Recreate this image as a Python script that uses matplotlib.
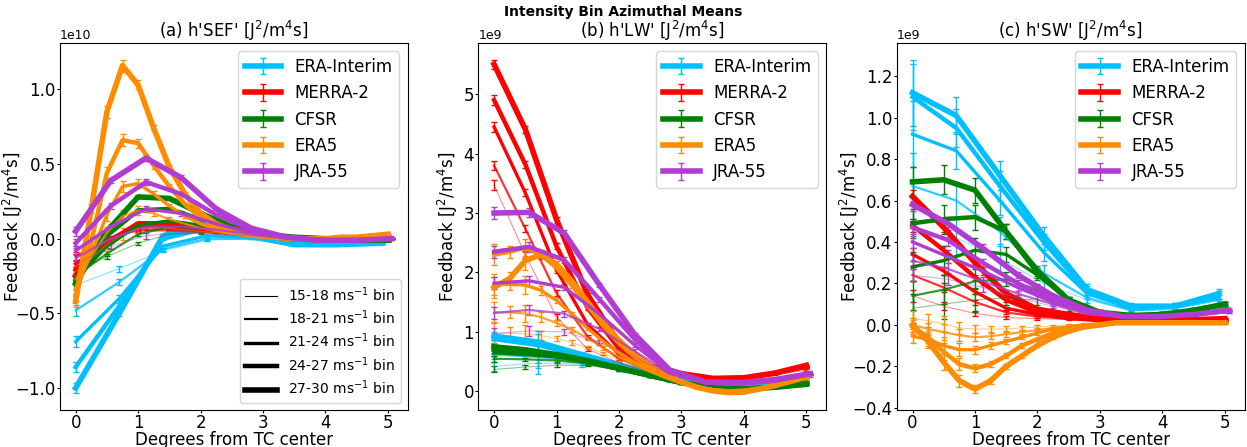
import numpy as np
import matplotlib
matplotlib.use('Agg')
import matplotlib.pyplot as plt
from matplotlib.lines import Line2D

# radial grids of each reanalysis (degrees from TC center)
x_erai = [0, 0.7, 1.4, 2.1, 2.8, 3.5, 4.2, 4.9]
x_merra = [0, 0.5, 1.0, 1.5, 2.0, 2.5, 3.0, 3.5, 4.0, 4.5, 5.0]
x_cfsr = [0, 0.5, 1.0, 1.5, 2.0, 2.5, 3.0, 3.5, 4.0, 4.5, 5.0]
x_era5 = [0, 0.25, 0.5, 0.75, 1.0, 1.25, 1.5, 1.75, 2.0, 2.25, 2.5, 2.75,
          3.0, 3.25, 3.5, 3.75, 4.0, 4.25, 4.5, 4.75, 5.0]
x_jra = [0, 0.5625, 1.125, 1.6875, 2.25, 2.8125, 3.375, 3.9375, 4.5, 5.0625]

datasets = ['ERA-Interim', 'MERRA-2', 'CFSR', 'ERA5', 'JRA-55']
colors = ['deepskyblue', 'red', 'green', 'darkorange', '#b03cd2']
bins = ['15-18', '18-21', '21-24', '24-27', '27-30']

# ---- (a) h'SEF', units of 1e10 ; one row per intensity bin ----
sef_erai = [[-0.31, -0.20, -0.08, -0.01, 0.00, -0.02, -0.03, -0.03],
            [-0.48, -0.29, -0.07, 0.00, 0.00, -0.03, -0.03, -0.03],
            [-0.69, -0.40, -0.05, 0.02, 0.01, -0.03, -0.04, -0.03],
            [-0.86, -0.45, 0.00, 0.07, 0.01, -0.04, -0.04, -0.03],
            [-1.00, -0.50, 0.02, 0.11, 0.02, -0.04, -0.04, -0.03]]
sef_merra = [[-0.07, 0.01, 0.05, 0.05, 0.04, 0.03, 0.01, 0.00, -0.01, -0.01, -0.01],
             [-0.12, 0.00, 0.06, 0.06, 0.05, 0.03, 0.01, 0.00, -0.01, -0.01, -0.01],
             [-0.17, -0.01, 0.08, 0.08, 0.06, 0.04, 0.02, 0.00, -0.01, -0.01, -0.01],
             [-0.21, -0.02, 0.09, 0.09, 0.07, 0.04, 0.02, 0.00, -0.01, -0.01, -0.01],
             [-0.25, -0.03, 0.10, 0.10, 0.08, 0.05, 0.02, 0.00, -0.01, -0.01, -0.01]]
sef_cfsr = [[-0.22, -0.12, -0.03, 0.03, 0.04, 0.03, 0.02, 0.01, 0.00, -0.01, -0.01],
            [-0.25, -0.10, 0.03, 0.08, 0.07, 0.05, 0.02, 0.01, 0.00, -0.01, -0.01],
            [-0.27, -0.05, 0.09, 0.12, 0.09, 0.05, 0.03, 0.01, 0.00, -0.01, -0.01],
            [-0.28, 0.02, 0.19, 0.20, 0.13, 0.06, 0.03, 0.01, 0.00, -0.01, -0.01],
            [-0.30, 0.05, 0.28, 0.27, 0.17, 0.08, 0.03, 0.01, 0.00, -0.01, -0.01]]
sef_era5 = [[-0.22, -0.13, -0.04, 0.03, 0.07, 0.08, 0.07, 0.06, 0.05, 0.04, 0.03,
             0.02, 0.01, 0.00, 0.00, 0.00, 0.00, 0.00, 0.00, 0.01, 0.01],
            [-0.27, -0.12, 0.04, 0.15, 0.19, 0.17, 0.13, 0.10, 0.07, 0.05, 0.03,
             0.02, 0.01, 0.00, 0.00, 0.00, 0.00, 0.00, 0.01, 0.01, 0.02],
            [-0.33, -0.10, 0.16, 0.35, 0.37, 0.30, 0.22, 0.15, 0.10, 0.06, 0.04,
             0.02, 0.01, 0.00, 0.00, 0.00, 0.00, 0.01, 0.01, 0.02, 0.02],
            [-0.38, -0.02, 0.44, 0.66, 0.64, 0.49, 0.35, 0.23, 0.14, 0.08, 0.05,
             0.03, 0.02, 0.01, 0.00, 0.00, 0.00, 0.01, 0.01, 0.02, 0.03],
            [-0.42, 0.20, 0.85, 1.16, 1.03, 0.74, 0.48, 0.30, 0.17, 0.10, 0.06,
             0.04, 0.02, 0.01, 0.00, 0.00, 0.00, 0.01, 0.01, 0.02, 0.03]]
sef_jra = [[-0.17, -0.05, 0.02, 0.04, 0.03, 0.02, 0.00, -0.01, -0.01, 0.00],
           [-0.13, 0.00, 0.08, 0.08, 0.06, 0.03, 0.00, -0.01, -0.01, 0.00],
           [-0.08, 0.08, 0.20, 0.17, 0.10, 0.04, 0.01, -0.01, -0.01, 0.00],
           [-0.03, 0.22, 0.38, 0.30, 0.16, 0.06, 0.01, -0.01, -0.01, 0.00],
           [0.05, 0.39, 0.54, 0.41, 0.20, 0.07, 0.01, -0.01, -0.01, 0.00]]
sef_err_erai = [0.035, 0.02, 0.01, 0.006, 0.004, 0.003, 0.003, 0.003]
sef_err_merra = [0.02, 0.01, 0.008, 0.006, 0.005, 0.004, 0.003, 0.003, 0.003, 0.003, 0.003]
sef_err_cfsr = [0.02, 0.015, 0.01, 0.008, 0.006, 0.005, 0.004, 0.003, 0.003, 0.003, 0.003]
sef_err_era5 = [0.04, 0.03, 0.04, 0.04, 0.03, 0.02, 0.015, 0.01, 0.008, 0.006, 0.005,
                0.004, 0.004, 0.003, 0.003, 0.003, 0.003, 0.003, 0.003, 0.003, 0.003]
sef_err_jra = [0.03, 0.02, 0.02, 0.015, 0.01, 0.006, 0.004, 0.003, 0.003, 0.003]

# ---- (b) h'LW', units of 1e9 ----
lw_erai = [[0.42, 0.48, 0.46, 0.35, 0.18, 0.06, 0.06, 0.12],
           [0.62, 0.58, 0.50, 0.37, 0.19, 0.06, 0.07, 0.13],
           [0.70, 0.66, 0.55, 0.39, 0.20, 0.07, 0.08, 0.15],
           [0.88, 0.78, 0.60, 0.40, 0.20, 0.08, 0.08, 0.18],
           [0.93, 0.83, 0.62, 0.42, 0.22, 0.10, 0.10, 0.20]]
lw_merra = [[3.47, 2.30, 1.25, 0.71, 0.48, 0.32, 0.25, 0.22, 0.23, 0.28, 0.36],
            [3.80, 2.74, 1.65, 0.92, 0.55, 0.35, 0.27, 0.22, 0.23, 0.30, 0.40],
            [4.45, 3.34, 2.04, 1.12, 0.63, 0.38, 0.28, 0.22, 0.23, 0.30, 0.41],
            [4.90, 3.82, 2.44, 1.40, 0.72, 0.40, 0.29, 0.22, 0.22, 0.30, 0.42],
            [5.50, 4.41, 2.89, 1.62, 0.82, 0.43, 0.30, 0.22, 0.23, 0.31, 0.44]]
lw_cfsr = [[0.37, 0.41, 0.44, 0.44, 0.36, 0.25, 0.14, 0.07, 0.06, 0.09, 0.16],
           [0.55, 0.54, 0.52, 0.47, 0.36, 0.25, 0.14, 0.07, 0.06, 0.09, 0.17],
           [0.65, 0.62, 0.58, 0.49, 0.37, 0.25, 0.14, 0.06, 0.05, 0.08, 0.15],
           [0.70, 0.66, 0.60, 0.50, 0.38, 0.26, 0.14, 0.05, 0.04, 0.07, 0.13],
           [0.75, 0.70, 0.62, 0.52, 0.40, 0.27, 0.15, 0.06, 0.04, 0.07, 0.12]]
lw_era5 = [[0.98, 0.98, 0.97, 0.94, 0.89, 0.82, 0.74, 0.64, 0.54, 0.43, 0.32,
            0.22, 0.13, 0.07, 0.04, 0.02, 0.03, 0.05, 0.09, 0.14, 0.20],
           [1.33, 1.33, 1.31, 1.25, 1.15, 1.04, 0.89, 0.73, 0.58, 0.45, 0.33,
            0.22, 0.13, 0.07, 0.03, 0.01, 0.02, 0.05, 0.09, 0.15, 0.22],
           [1.80, 1.80, 1.79, 1.70, 1.53, 1.30, 1.06, 0.84, 0.65, 0.49, 0.36,
            0.24, 0.14, 0.07, 0.03, 0.01, 0.02, 0.05, 0.10, 0.16, 0.23],
           [2.30, 2.35, 2.42, 2.30, 2.08, 1.78, 1.44, 1.10, 0.81, 0.58, 0.40,
            0.26, 0.15, 0.07, 0.02, 0.00, 0.01, 0.05, 0.10, 0.17, 0.24],
           [1.75, 1.90, 2.20, 2.30, 2.14, 1.85, 1.50, 1.15, 0.86, 0.62, 0.43,
            0.28, 0.16, 0.07, 0.01, -0.02, -0.01, 0.04, 0.10, 0.17, 0.25]]
lw_jra = [[0.97, 1.02, 1.00, 0.82, 0.58, 0.28, 0.13, 0.11, 0.16, 0.26],
          [1.32, 1.37, 1.31, 1.05, 0.68, 0.30, 0.14, 0.12, 0.17, 0.28],
          [1.82, 1.86, 1.75, 1.30, 0.78, 0.32, 0.15, 0.12, 0.18, 0.29],
          [2.35, 2.43, 2.21, 1.55, 0.88, 0.34, 0.15, 0.13, 0.18, 0.30],
          [3.00, 3.01, 2.66, 1.79, 0.96, 0.36, 0.16, 0.15, 0.20, 0.30]]
lw_err_erai = [0.07, 0.18, 0.05, 0.03, 0.02, 0.02, 0.02, 0.03]
lw_err_merra = [0.08, 0.06, 0.05, 0.03, 0.02, 0.015, 0.01, 0.01, 0.01, 0.01, 0.01]
lw_err_cfsr = [0.05, 0.03, 0.03, 0.02, 0.015, 0.01, 0.01, 0.01, 0.01, 0.01, 0.01]
lw_err_era5 = [0.18, 0.10, 0.15, 0.08, 0.05, 0.04, 0.03, 0.03, 0.02, 0.02, 0.015,
               0.01, 0.01, 0.01, 0.01, 0.01, 0.01, 0.01, 0.01, 0.01, 0.01]
lw_err_jra = [0.10, 0.08, 0.05, 0.04, 0.03, 0.02, 0.01, 0.01, 0.01, 0.01]

# ---- (c) h'SW', units of 1e9 ----
sw_erai = [[0.44, 0.42, 0.32, 0.20, 0.12, 0.07, 0.07, 0.10],
           [0.67, 0.60, 0.45, 0.25, 0.13, 0.07, 0.08, 0.12],
           [0.92, 0.84, 0.60, 0.35, 0.15, 0.08, 0.09, 0.13],
           [1.10, 0.95, 0.67, 0.40, 0.16, 0.08, 0.09, 0.14],
           [1.12, 1.01, 0.72, 0.43, 0.17, 0.09, 0.09, 0.15]]
sw_merra = [[0.14, 0.09, 0.055, 0.035, 0.03, 0.025, 0.02, 0.02, 0.02, 0.02, 0.02],
            [0.24, 0.18, 0.11, 0.06, 0.04, 0.03, 0.02, 0.02, 0.02, 0.02, 0.02],
            [0.34, 0.26, 0.16, 0.08, 0.05, 0.03, 0.02, 0.02, 0.02, 0.02, 0.02],
            [0.48, 0.36, 0.23, 0.12, 0.06, 0.04, 0.03, 0.02, 0.02, 0.02, 0.03],
            [0.62, 0.47, 0.30, 0.15, 0.075, 0.05, 0.03, 0.025, 0.025, 0.025, 0.03]]
sw_cfsr = [[0.08, 0.10, 0.12, 0.13, 0.12, 0.08, 0.05, 0.04, 0.05, 0.06, 0.08],
           [0.14, 0.17, 0.21, 0.22, 0.17, 0.10, 0.06, 0.04, 0.05, 0.07, 0.09],
           [0.28, 0.31, 0.36, 0.34, 0.24, 0.12, 0.06, 0.045, 0.05, 0.07, 0.10],
           [0.49, 0.51, 0.52, 0.45, 0.25, 0.12, 0.06, 0.045, 0.05, 0.07, 0.10],
           [0.69, 0.70, 0.65, 0.45, 0.26, 0.12, 0.06, 0.045, 0.05, 0.07, 0.10]]
sw_era5 = [[0.03, 0.02, 0.005, -0.015, -0.02, -0.02, -0.02, -0.015, -0.01, -0.005, 0.00,
            0.005, 0.008, 0.01, 0.01, 0.01, 0.01, 0.01, 0.01, 0.005, 0.005],
           [0.00, -0.02, -0.035, -0.05, -0.06, -0.055, -0.045, -0.035, -0.025, -0.015, -0.008,
            0.00, 0.005, 0.01, 0.01, 0.01, 0.01, 0.01, 0.01, 0.01, 0.01],
           [-0.055, -0.07, -0.10, -0.12, -0.12, -0.10, -0.08, -0.06, -0.04, -0.02, -0.01,
            0.00, 0.005, 0.01, 0.01, 0.01, 0.01, 0.01, 0.01, 0.01, 0.01],
           [-0.01, -0.06, -0.13, -0.19, -0.21, -0.19, -0.15, -0.10, -0.07, -0.04, -0.02,
            -0.01, 0.00, 0.01, 0.01, 0.01, 0.01, 0.01, 0.01, 0.01, 0.01],
           [0.00, -0.08, -0.18, -0.27, -0.31, -0.27, -0.20, -0.15, -0.10, -0.06, -0.03,
            -0.01, 0.00, 0.01, 0.01, 0.01, 0.01, 0.01, 0.01, 0.01, 0.01]]
sw_jra = [[0.24, 0.22, 0.18, 0.13, 0.09, 0.05, 0.04, 0.04, 0.05, 0.06],
          [0.31, 0.27, 0.21, 0.15, 0.10, 0.05, 0.04, 0.04, 0.05, 0.06],
          [0.40, 0.33, 0.26, 0.18, 0.11, 0.06, 0.04, 0.04, 0.05, 0.07],
          [0.47, 0.41, 0.30, 0.20, 0.12, 0.06, 0.04, 0.04, 0.05, 0.07],
          [0.58, 0.49, 0.37, 0.24, 0.14, 0.07, 0.04, 0.04, 0.05, 0.07]]
sw_err_erai = [0.16, 0.09, 0.07, 0.04, 0.025, 0.015, 0.015, 0.025]
sw_err_merra = [0.03, 0.02, 0.012, 0.008, 0.005, 0.004, 0.003, 0.003, 0.003, 0.003, 0.003]
sw_err_cfsr = [0.07, 0.07, 0.06, 0.035, 0.025, 0.015, 0.01, 0.01, 0.01, 0.01, 0.01]
sw_err_era5 = [0.035, 0.03, 0.04, 0.03, 0.02, 0.015, 0.012, 0.01, 0.008, 0.006, 0.005,
               0.004, 0.004, 0.003, 0.003, 0.003, 0.003, 0.003, 0.003, 0.003, 0.003]
sw_err_jra = [0.03, 0.03, 0.02, 0.015, 0.01, 0.008, 0.005, 0.005, 0.005, 0.005]

xs = [x_erai, x_merra, x_cfsr, x_era5, x_jra]
panels = [
    ("(a) h'SEF' [J$^2$/m$^4$s]", 1e10,
     [sef_erai, sef_merra, sef_cfsr, sef_era5, sef_jra],
     [sef_err_erai, sef_err_merra, sef_err_cfsr, sef_err_era5, sef_err_jra]),
    ("(b) h'LW' [J$^2$/m$^4$s]", 1e9,
     [lw_erai, lw_merra, lw_cfsr, lw_era5, lw_jra],
     [lw_err_erai, lw_err_merra, lw_err_cfsr, lw_err_era5, lw_err_jra]),
    ("(c) h'SW' [J$^2$/m$^4$s]", 1e9,
     [sw_erai, sw_merra, sw_cfsr, sw_era5, sw_jra],
     [sw_err_erai, sw_err_merra, sw_err_cfsr, sw_err_era5, sw_err_jra]),
]
ylabel_x = [-0.10, -0.052, -0.10]

line_widths = [0.8, 1.6, 2.4, 3.2, 4.0]
line_alphas = [0.45, 0.8, 1.0, 1.0, 1.0]

plt.rcParams['font.size'] = 12
fig, axes = plt.subplots(1, 3, figsize=(12.47, 4.47), dpi=100)
fig.subplots_adjust(left=0.048, right=0.998, bottom=0.083, top=0.904, wspace=0.203)

for i, (ax, (title, scale, vals, errs)) in enumerate(zip(axes, panels)):
    for d in range(len(datasets)):
        x = np.array(xs[d])
        for b in range(len(bins)):
            y = np.array(vals[d][b]) * scale
            e = np.array(errs[d]) * scale
            cont = ax.errorbar(x, y, yerr=e, color=colors[d], lw=line_widths[b],
                               elinewidth=1, capsize=2, capthick=1,
                               label=datasets[d] if b == len(bins) - 1 else None)
            cont[0].set_alpha(line_alphas[b])
    ax.set_title(title, fontsize=12, pad=2)
    ax.set_xlabel('Degrees from TC center', fontsize=12)
    ax.set_ylabel('Feedback [J$^2$/m$^4$s]', fontsize=12)
    ax.xaxis.set_label_coords(0.5, -0.058)
    ax.yaxis.set_label_coords(ylabel_x[i], 0.5)
    ax.tick_params(labelsize=12, length=2, pad=1)
    ax.yaxis.get_offset_text().set_fontsize(9)
    ax.legend(loc='upper right', fontsize=12, handlelength=2.2)

# second legend for the intensity bins in panel (a)
leg1 = axes[0].get_legend()
bin_handles = [Line2D([], [], color='k', lw=w) for w in line_widths]
bin_labels = [b + ' ms$^{-1}$ bin' for b in bins]
axes[0].legend(bin_handles, bin_labels, loc='lower right', fontsize=10,
               handlelength=2.3, labelspacing=0.35)
axes[0].add_artist(leg1)

fig.suptitle('Intensity Bin Azimuthal Means', fontsize=10, fontweight='bold', y=0.988)

plt.savefig('out.png', dpi=100)
